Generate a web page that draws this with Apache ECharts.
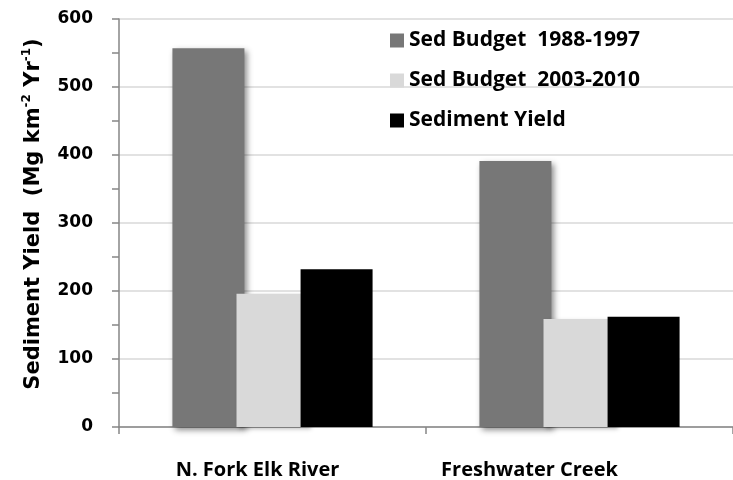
<!DOCTYPE html>
<html>
<head>
<meta charset="utf-8">
<script src="https://cdn.jsdelivr.net/npm/echarts@6/dist/echarts.min.js"></script>
<style>
  html, body { margin: 0; padding: 0; background: #fff; }
  #chart { width: 733px; height: 480px; }
</style>
</head>
<body>
<div id="chart"></div>
<script>
// Sediment yield by watershed (Mg km^-2 Yr^-1)
const sites = ['N. Fork Elk River', 'Freshwater Creek'];
const seriesNames = ['Sed Budget  1988-1997', 'Sed Budget  2003-2010', 'Sediment Yield'];
const budget1988 = [557, 391];
const budget2003 = [196, 159];
const sedimentYield = [232, 162];
const yTicks = [0, 100, 200, 300, 400, 500, 600];

const FONT = '"Open Sans", Lato, sans-serif';
const WIDE_FONT = '"DejaVu Sans", "Open Sans", sans-serif';
const AXIS_GREY = '#868686';

const chart = echarts.init(document.getElementById('chart'), null, { renderer: 'canvas' });

// per-label shift so each site name sits where it is printed
const labelPad = [30, 100];

chart.setOption({
  animation: false,
  backgroundColor: '#ffffff',
  grid: { left: 119, right: -8, top: 19, bottom: 53, containLabel: false },
  legend: {
    orient: 'vertical',
    left: 385,
    top: 25,
    itemWidth: 14,
    itemHeight: 14,
    itemGap: 19,
    icon: 'rect',
    selectedMode: false,
    data: seriesNames,
    textStyle: { fontFamily: FONT, fontWeight: 'bold', fontSize: 21, color: '#000' }
  },
  xAxis: {
    type: 'category',
    data: sites,
    axisLine: { lineStyle: { color: AXIS_GREY, width: 1.5 } },
    axisTick: { show: true, alignWithLabel: false, length: 7, lineStyle: { color: AXIS_GREY, width: 1.5 } },
    axisLabel: {
      margin: 33,
      formatter: function (v) { return v === sites[0] ? '{a|' + v + '}' : '{b|' + v + '}'; },
      rich: {
        a: { fontFamily: FONT, fontWeight: 'bold', fontSize: 20, color: '#000', padding: [0, labelPad[0], 0, 0] },
        b: { fontFamily: FONT, fontWeight: 'bold', fontSize: 20, color: '#000', padding: [0, labelPad[1], 0, 0] }
      }
    },
    splitLine: { show: false }
  },
  yAxis: {
    type: 'value',
    min: yTicks[0],
    max: yTicks[yTicks.length - 1],
    interval: 100,
    name: '{a|Sediment Yield  (Mg km}{s|-2}{a| Yr}{s|-1}{a|)}',
    nameLocation: 'middle',
    nameGap: 72,
    nameTextStyle: {
      padding: [0, 0, 0, 18],
      rich: {
        a: { fontFamily: WIDE_FONT, fontWeight: 'bold', fontSize: 21, color: '#000', lineHeight: 26 },
        s: { fontFamily: WIDE_FONT, fontWeight: 'bold', fontSize: 12, color: '#000', lineHeight: 26, verticalAlign: 'top' }
      }
    },
    axisLine: { show: true, lineStyle: { color: AXIS_GREY, width: 1.5 } },
    axisTick: { show: true, inside: false, length: 7, lineStyle: { color: AXIS_GREY, width: 1.5 } },
    minorTick: { show: true, splitNumber: 2, length: 7, lineStyle: { color: AXIS_GREY, width: 1.5 } },
    axisLabel: { margin: 26, fontFamily: WIDE_FONT, fontWeight: 'bold', fontSize: 17, color: '#000' },
    splitLine: { show: true, lineStyle: { color: '#d9d9d9', width: 1.5 } }
  },
  series: [
    {
      name: seriesNames[0], type: 'bar', data: budget1988,
      barWidth: 72, barGap: '-11%', barCategoryGap: '36%',
      itemStyle: { color: '#777777', shadowColor: 'rgba(0,0,0,0.45)', shadowBlur: 6, shadowOffsetX: 3, shadowOffsetY: 3 }
    },
    {
      name: seriesNames[1], type: 'bar', data: budget2003,
      barWidth: 72, barGap: '-11%',
      itemStyle: { color: '#d9d9d9', shadowColor: 'rgba(0,0,0,0.25)', shadowBlur: 4, shadowOffsetX: 2, shadowOffsetY: 2 }
    },
    {
      name: seriesNames[2], type: 'bar', data: sedimentYield,
      barWidth: 72, barGap: '-11%',
      itemStyle: { color: '#000000' }
    }
  ]
});
</script>
</body>
</html>
